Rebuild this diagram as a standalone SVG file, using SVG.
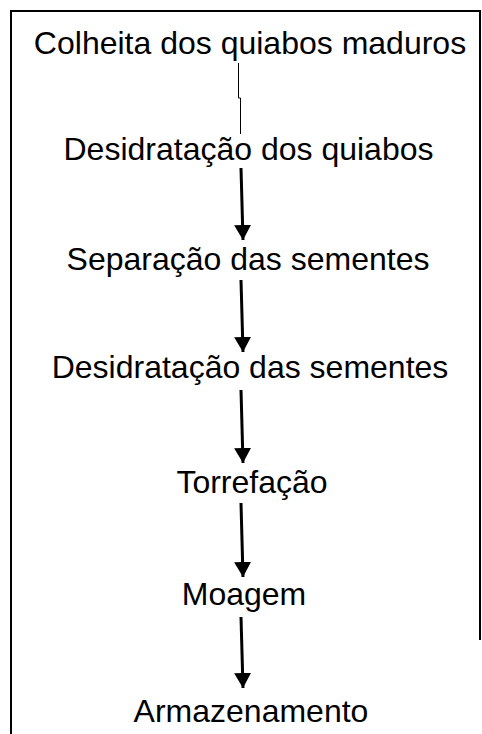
<svg xmlns="http://www.w3.org/2000/svg" width="482" height="734" viewBox="0 0 482 734">
  <style>
    .lbl { font-family: "Liberation Sans", Arial, sans-serif; font-size: 32px; fill: #000; text-anchor: middle; }
    .arrow { stroke: #000; stroke-width: 3; fill: none; }
    .frame { stroke: #000; stroke-width: 2; fill: none; }
  </style>
  <defs>
    <marker id="ah" markerUnits="userSpaceOnUse" markerWidth="18" markerHeight="18" refX="15" refY="9" orient="auto">
      <polygon points="0,0.5 15,9 0,17.5" fill="#000"/>
    </marker>
  </defs>
  <rect width="482" height="734" fill="#fff"/>
  <path class="frame" d="M11 734 V11 H480 V640"/>
  <g id="connectors">
    <path d="M238.5 63 V98 H240.5 V134" stroke="#000" stroke-width="1" fill="none"/>
    <line class="arrow" x1="241" y1="168" x2="243" y2="240" marker-end="url(#ah)"/>
    <line class="arrow" x1="241" y1="280" x2="243" y2="352" marker-end="url(#ah)"/>
    <line class="arrow" x1="241" y1="390" x2="243" y2="463" marker-end="url(#ah)"/>
    <line class="arrow" x1="241" y1="503" x2="243" y2="577" marker-end="url(#ah)"/>
    <line class="arrow" x1="241" y1="617" x2="243" y2="688" marker-end="url(#ah)"/>
  </g>
  <g id="n1"><text class="lbl" x="250" y="54">Colheita dos quiabos maduros</text></g>
  <g id="n2"><text class="lbl" x="248.5" y="160">Desidratação dos quiabos</text></g>
  <g id="n3"><text class="lbl" x="248" y="270">Separação das sementes</text></g>
  <g id="n4"><text class="lbl" x="250" y="378">Desidratação das sementes</text></g>
  <g id="n5"><text class="lbl" x="252" y="493">Torrefação</text></g>
  <g id="n6"><text class="lbl" x="244" y="605">Moagem</text></g>
  <g id="n7"><text class="lbl" x="251" y="722">Armazenamento</text></g>
</svg>
